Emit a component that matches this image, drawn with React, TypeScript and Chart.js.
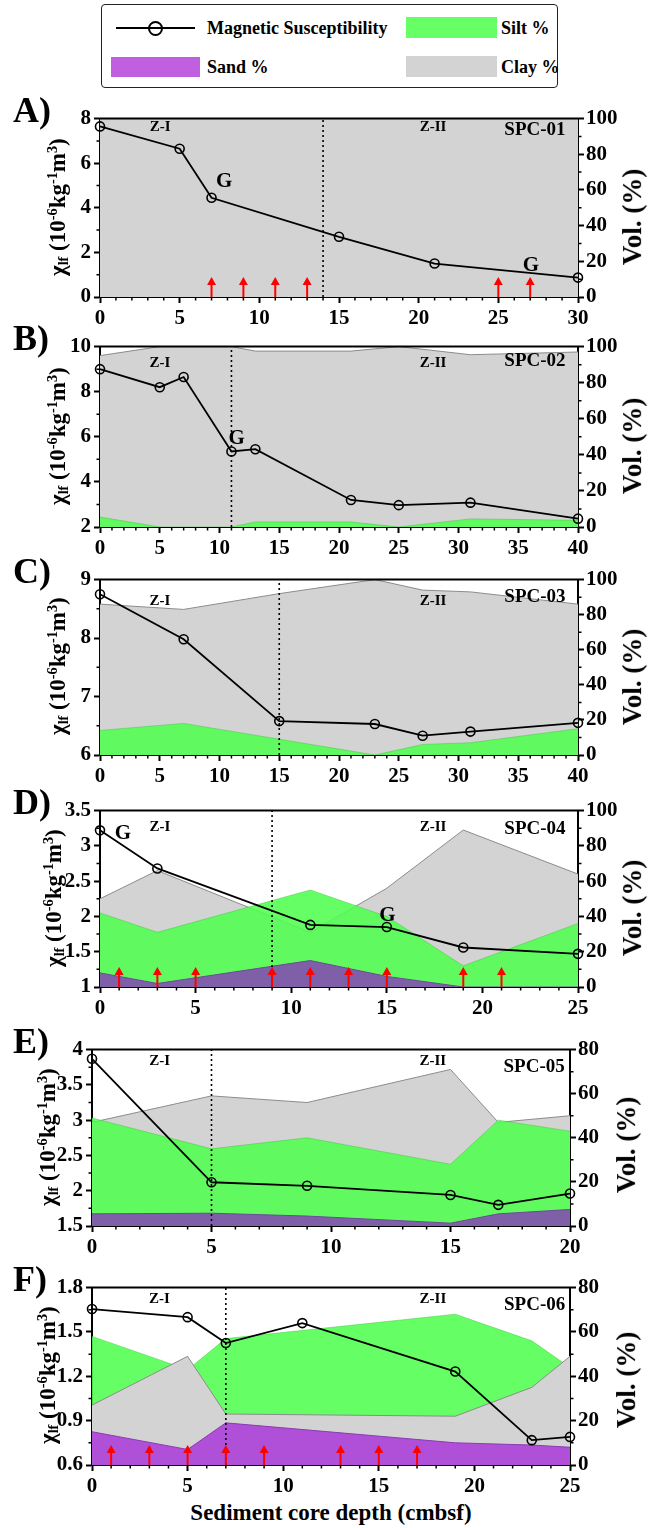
import React, { useEffect, useRef } from "react";
import { Chart, registerables } from "chart.js";
Chart.register(...registerables);

const FONT = "'Liberation Serif', 'Times New Roman', serif";
const MS_LABEL = "Magnetic Susceptibility";
const GRAY = "#d3d3d3";
const GREEN = "rgba(80,255,80,0.88)";
const PURPLE_LEGEND = "#c060e0";

// ---------- Panel A : SPC-01 ----------
const depthA = [0, 5, 7, 15, 21, 30];
const msA = [7.65, 6.65, 4.45, 2.7, 1.5, 0.87];
const grainDepthA = [0, 5, 7, 15, 21, 30];
const clayA = [100, 100, 100, 100, 100, 100];
const arrowsA = [7, 9, 11, 13, 25, 27];
const gLabelsA: [number, number][] = [[7.8, 5.17], [27.05, 1.42]];

// ---------- Panel B : SPC-02 ----------
const depthB = [0, 5, 7, 11, 13, 21, 25, 31, 40];
const msB = [9.0, 8.2, 8.65, 5.35, 5.45, 3.2, 2.97, 3.08, 2.37];
const grainDepthB = [0, 5, 7, 11, 13, 21, 25, 31, 40];
const clayB = [95, 100, 100, 100, 97.5, 97.5, 100, 95.5, 97];
const siltB = [5.5, 0, 0, 0, 2.8, 2.8, 0, 4.5, 3.7];
const gLabelsB: [number, number][] = [[11.43, 5.94]];

// ---------- Panel C : SPC-03 ----------
const depthC = [0, 7, 15, 23, 27, 31, 40];
const msC = [8.75, 7.98, 6.58, 6.53, 6.33, 6.4, 6.55];
const grainDepthC = [0, 7, 15, 23, 27, 31, 40];
const clayC = [86, 83, 92, 100, 94, 93, 86];
const siltC = [14, 18, 9, 0, 6, 7, 15];

// ---------- Panel D : SPC-04 ----------
const depthD = [0, 3, 11, 15, 19, 25];
const msD = [3.22, 2.68, 1.88, 1.85, 1.56, 1.47];
const grainDepthD = [0, 3, 11, 15, 19, 25];
const clayD = [50, 66, 31, 56, 89, 64];
const siltD = [42, 31, 55, 40, 12, 36];
const sandD = [8, 2, 15, 6, 0, 0];
const arrowsD = [1, 3, 5, 9, 11, 13, 15, 19, 21];
const gLabelsD: [number, number][] = [[1.2, 3.18], [15.03, 2.01]];

// ---------- Panel E : SPC-05 ----------
const depthE = [0, 5, 9, 15, 17, 20];
const msE = [3.87, 2.12, 2.07, 1.94, 1.8, 1.96];
const grainDepthE = [0, 5, 9, 15, 17, 20];
const clayE = [47, 59, 56, 71, 47, 50];
const siltE = [49, 35, 40, 28, 48, 43];
const sandE = [5.5, 5.8, 4.5, 1.3, 5.5, 7.5];

// ---------- Panel F : SPC-06 ----------
const depthF = [0, 5, 7, 11, 19, 23, 25];
const msF = [1.655, 1.6, 1.425, 1.56, 1.232, 0.768, 0.79];
const grainDepthF = [0, 5, 7, 19, 23, 25];
const clayF = [27, 49, 23, 22, 35, 49];
const siltF = [58, 43, 57, 68, 56, 44];
const sandF = [15, 7, 19, 10, 9, 8];
const arrowsF = [1, 3, 5, 7, 9, 13, 15, 17];

interface PanelDef {
  letter: string;
  spc: string;
  l: number; r: number; t: number; b: number;
  xMax: number;
  yMin: number; yMax: number; yStep: number; yMinor: number;
  y2Max: number;
  depth: number[]; ms: number[];
  grainDepth: number[]; clay: number[]; silt?: number[]; sand?: number[];
  sandColor?: string; sandBorder?: string;
  clayOnTop?: boolean;
  zone: number;
  arrows: number[];
  gLabels: [number, number][];
  zIx: number; zIIx: number; spcX: number; zY: number; spcY: number;
  titleX: number; titleDy: number;
}

const panels: PanelDef[] = [
  {
    letter: "A)", spc: "SPC-01", l: 100, r: 578, t: 117, b: 297,
    xMax: 30, yMin: 0, yMax: 8, yStep: 2, yMinor: 1, y2Max: 100,
    depth: depthA, ms: msA, grainDepth: grainDepthA, clay: clayA,
    zone: 14, arrows: arrowsA, gLabels: gLabelsA,
    zIx: 3.77, zIIx: 20.9, spcX: 27.3, zY: 9, spcY: 11, titleX: 52, titleDy: 10,
  },
  {
    letter: "B)", spc: "SPC-02", l: 100, r: 578, t: 345, b: 527,
    xMax: 40, yMin: 2, yMax: 10, yStep: 2, yMinor: 1, y2Max: 100,
    depth: depthB, ms: msB, grainDepth: grainDepthB, clay: clayB, silt: siltB,
    zone: 11, arrows: [], gLabels: gLabelsB,
    zIx: 5.02, zIIx: 27.87, spcX: 36.4, zY: 17, spcY: 14, titleX: 52, titleDy: 10,
  },
  {
    letter: "C)", spc: "SPC-03", l: 100, r: 578, t: 578, b: 755,
    xMax: 40, yMin: 6, yMax: 9, yStep: 1, yMinor: 0.5, y2Max: 100,
    depth: depthC, ms: msC, grainDepth: grainDepthC, clay: clayC, silt: siltC,
    zone: 15, arrows: [], gLabels: [],
    zIx: 5.02, zIIx: 27.87, spcX: 36.4, zY: 22, spcY: 17, titleX: 52, titleDy: 10,
  },
  {
    letter: "D)", spc: "SPC-04", l: 100, r: 578, t: 809, b: 987,
    xMax: 25, yMin: 1, yMax: 3.5, yStep: 0.5, yMinor: 0.25, y2Max: 100,
    depth: depthD, ms: msD, grainDepth: grainDepthD, clay: clayD, silt: siltD, sand: sandD,
    sandColor: "#7f5fa8", sandBorder: "#6a4c94",
    zone: 9, arrows: arrowsD, gLabels: gLabelsD,
    zIx: 3.14, zIIx: 17.42, spcX: 22.75, zY: 17, spcY: 18, titleX: 48, titleDy: 10,
  },
  {
    letter: "E)", spc: "SPC-05", l: 92, r: 570, t: 1048, b: 1226,
    xMax: 20, yMin: 1.5, yMax: 4, yStep: 0.5, yMinor: 0.25, y2Max: 80,
    depth: depthE, ms: msE, grainDepth: grainDepthE, clay: clayE, silt: siltE, sand: sandE,
    sandColor: "#7f5fa8", sandBorder: "#6a4c94",
    zone: 5, arrows: [], gLabels: [],
    zIx: 2.83, zIIx: 14.26, spcX: 18.5, zY: 12, spcY: 17, titleX: 42, titleDy: 8,
  },
  {
    letter: "F)", spc: "SPC-06", l: 92, r: 570, t: 1286, b: 1465,
    xMax: 25, yMin: 0.6, yMax: 1.8, yStep: 0.3, yMinor: 0.15, y2Max: 80,
    depth: depthF, ms: msF, grainDepth: grainDepthF, clay: clayF, silt: siltF, sand: sandF,
    sandColor: "#b050d8", sandBorder: "#8a3cb0", clayOnTop: true,
    zone: 7, arrows: arrowsF, gLabels: [],
    zIx: 3.53, zIIx: 17.83, spcX: 23.15, zY: 12, spcY: 17, titleX: 42, titleDy: 4,
  },
];

const LW = 70;
const RW = 60;
const TP = 14;
const XH = 34;

function zip(xs: number[], ys: number[]) {
  return xs.map((x, i) => ({ x, y: ys[i] }));
}

const fmt = (v: any) => String(Math.round(Number(v) * 100) / 100);

function makeDecor(p: PanelDef) {
  return {
    id: "decor" + p.letter,
    beforeDatasetDraw(chart: any, args: any) {
      const ds = chart.data.datasets[args.index];
      if (ds.label !== MS_LABEL) return;
      const { ctx, chartArea: ca, scales } = chart;
      const xs = scales.x;
      ctx.save();
      // zone boundary
      ctx.strokeStyle = "#000";
      ctx.lineWidth = 1.6;
      ctx.setLineDash([2, 3]);
      const zx = xs.getPixelForValue(p.zone);
      ctx.beginPath();
      ctx.moveTo(zx, ca.bottom);
      ctx.lineTo(zx, ca.top);
      ctx.stroke();
      ctx.setLineDash([]);
      // arrows
      ctx.strokeStyle = "#ff0000";
      ctx.fillStyle = "#ff0000";
      ctx.lineWidth = 2;
      for (const a of p.arrows) {
        const ax = xs.getPixelForValue(a);
        const y0 = ca.bottom;
        const y1 = ca.bottom - 20;
        ctx.beginPath();
        ctx.moveTo(ax, y0);
        ctx.lineTo(ax, y1 + 5);
        ctx.stroke();
        ctx.beginPath();
        ctx.moveTo(ax, y1);
        ctx.lineTo(ax - 4.5, y1 + 8);
        ctx.lineTo(ax + 4.5, y1 + 8);
        ctx.closePath();
        ctx.fill();
      }
      ctx.restore();
    },
    afterDraw(chart: any) {
      const { ctx, chartArea: ca, scales } = chart;
      const xs = scales.x, ys = scales.y, y2 = scales.y2;
      ctx.save();
      ctx.strokeStyle = "#000";
      // top frame
      ctx.lineWidth = 2;
      ctx.beginPath();
      ctx.moveTo(ca.left - 1, ca.top);
      ctx.lineTo(ca.right + 1, ca.top);
      ctx.stroke();
      // minor ticks
      ctx.lineWidth = 1.5;
      ctx.beginPath();
      for (let v = 1; v < p.xMax; v++) {
        if (v % 5 === 0) continue;
        const px = xs.getPixelForValue(v);
        ctx.moveTo(px, ca.bottom);
        ctx.lineTo(px, ca.bottom + 3.5);
      }
      const n = Math.round((p.yMax - p.yMin) / p.yMinor);
      for (let i = 1; i < n; i += 2) {
        const py = ys.getPixelForValue(p.yMin + i * p.yMinor);
        ctx.moveTo(ca.left, py);
        ctx.lineTo(ca.left - 3.5, py);
      }
      for (let v = 10; v < p.y2Max; v += 20) {
        const py = y2.getPixelForValue(v);
        ctx.moveTo(ca.right, py);
        ctx.lineTo(ca.right + 3.5, py);
      }
      ctx.stroke();
      // zone labels
      ctx.fillStyle = "#000";
      ctx.textAlign = "center";
      ctx.textBaseline = "middle";
      ctx.font = `bold 15px ${FONT}`;
      ctx.fillText("Z-I", xs.getPixelForValue(p.zIx), ca.top + p.zY);
      ctx.fillText("Z-II", xs.getPixelForValue(p.zIIx), ca.top + p.zY);
      ctx.font = `bold 19px ${FONT}`;
      ctx.fillText(p.spc, xs.getPixelForValue(p.spcX), ca.top + p.spcY);
      ctx.font = `bold 21px ${FONT}`;
      for (const [gx, gy] of p.gLabels) {
        ctx.fillText("G", xs.getPixelForValue(gx), ys.getPixelForValue(gy));
      }
      ctx.restore();
    },
  };
}

function PanelChart({ p }: { p: PanelDef }) {
  const ref = useRef<HTMLCanvasElement>(null);
  const W = p.r - p.l + LW + RW;
  const H = p.b - p.t + TP + XH;
  useEffect(() => {
    const canvas = ref.current!;
    const datasets: any[] = [];
    datasets.push({
      label: "Clay %",
      data: zip(p.grainDepth, p.clay),
      yAxisID: "y2",
      fill: "origin",
      backgroundColor: GRAY,
      borderColor: "#8c8c8c",
      borderWidth: 1,
      pointRadius: 0,
      order: p.clayOnTop ? 3 : 4,
    });
    if (p.silt) {
      datasets.push({
        label: "Silt %",
        data: zip(p.grainDepth, p.silt),
        yAxisID: "y2",
        fill: "origin",
        backgroundColor: GREEN,
        borderColor: "rgba(60,200,60,0.6)",
        borderWidth: 0.8,
        pointRadius: 0,
        order: p.clayOnTop ? 4 : 3,
      });
    }
    if (p.sand) {
      datasets.push({
        label: "Sand %",
        data: zip(p.grainDepth, p.sand),
        yAxisID: "y2",
        fill: "origin",
        backgroundColor: p.sandColor,
        borderColor: p.sandBorder,
        borderWidth: 1,
        pointRadius: 0,
        order: 2,
      });
    }
    datasets.push({
      label: MS_LABEL,
      data: zip(p.depth, p.ms),
      yAxisID: "y",
      borderColor: "#000",
      borderWidth: 1.8,
      pointRadius: 4.5,
      pointBorderWidth: 1.6,
      pointBackgroundColor: "rgba(0,0,0,0)",
      pointBorderColor: "#000",
      fill: false,
      order: 0,
      clip: false,
    });
    const tickFont = { family: FONT, size: 21, weight: "bold" as const };
    const grid = {
      drawOnChartArea: false,
      drawTicks: true,
      tickLength: 6,
      tickWidth: 2,
      tickColor: "#000",
    };
    const border = { color: "#000", width: 2 };
    const chart = new Chart(canvas, {
      type: "line",
      data: { datasets },
      plugins: [makeDecor(p)],
      options: {
        responsive: false,
        animation: false,
        events: [],
        layout: { padding: { top: TP, left: 0, right: 0, bottom: 0 } },
        plugins: { legend: { display: false }, tooltip: { enabled: false } },
        elements: { line: { tension: 0 } },
        scales: {
          x: {
            type: "linear",
            min: 0,
            max: p.xMax,
            ticks: { stepSize: 5, font: tickFont, color: "#000", padding: 3, autoSkip: false, maxRotation: 0, callback: fmt },
            grid,
            border,
            afterFit: (s: any) => { s.height = XH; },
          },
          y: {
            type: "linear",
            position: "left",
            min: p.yMin,
            max: p.yMax,
            ticks: { stepSize: p.yStep, font: tickFont, color: "#000", padding: 3, callback: fmt },
            grid,
            border,
            afterFit: (s: any) => { s.width = LW; },
          },
          y2: {
            type: "linear",
            position: "right",
            min: 0,
            max: p.y2Max,
            ticks: { stepSize: 20, font: tickFont, color: "#000", padding: 2, callback: fmt },
            grid,
            border,
            afterFit: (s: any) => { s.width = RW; },
          },
        } as any,
      },
    } as any);
    return () => chart.destroy();
  }, [p]);
  return (
    <canvas
      ref={ref}
      width={W}
      height={H}
      style={{ position: "absolute", left: p.l - LW, top: p.t - TP, width: W, height: H }}
    />
  );
}

const txt = (extra: React.CSSProperties): React.CSSProperties => ({
  position: "absolute",
  fontFamily: FONT,
  fontWeight: "bold",
  color: "#000",
  whiteSpace: "nowrap",
  ...extra,
});

function RotText({ cx, cy, size, children }: { cx: number; cy: number; size: number; children: React.ReactNode }) {
  const w = 240, h = size * 1.4;
  return (
    <div
      style={txt({
        left: cx - w / 2,
        top: cy - h / 2,
        width: w,
        height: h,
        lineHeight: `${h}px`,
        fontSize: size,
        textAlign: "center",
        transform: "rotate(-90deg)",
      })}
    >
      {children}
    </div>
  );
}

const sub: React.CSSProperties = { fontSize: "0.62em", verticalAlign: "-0.2em" };
const sup: React.CSSProperties = { fontSize: "0.62em", verticalAlign: "0.55em" };

export default function App() {
  return (
    <div style={{ position: "absolute", left: 0, top: 0, width: 652, height: 1528, background: "#fff", overflow: "hidden" }}>
      {/* legend */}
      <div style={{ position: "absolute", left: 101, top: 4, width: 457, height: 84, border: "1.5px solid #222", borderRadius: 4, boxSizing: "border-box" }} />
      <div style={{ position: "absolute", left: 116, top: 27, width: 79, height: 2, background: "#000" }} />
      <div style={{ position: "absolute", left: 148, top: 21, width: 15, height: 15, border: "2px solid #000", borderRadius: "50%", boxSizing: "border-box" }} />
      <div style={txt({ left: 207, top: 17, fontSize: 18, lineHeight: "22px" })}>{MS_LABEL}</div>
      <div style={{ position: "absolute", left: 406, top: 17, width: 91, height: 21, background: "#66ff66" }} />
      <div style={txt({ left: 501, top: 17, fontSize: 18, lineHeight: "22px" })}>Silt %</div>
      <div style={{ position: "absolute", left: 111, top: 57, width: 89, height: 20, background: PURPLE_LEGEND }} />
      <div style={txt({ left: 207, top: 56, fontSize: 18, lineHeight: "22px" })}>Sand %</div>
      <div style={{ position: "absolute", left: 406, top: 56, width: 91, height: 21, background: GRAY }} />
      <div style={txt({ left: 501, top: 56, fontSize: 18, lineHeight: "22px" })}>Clay %</div>

      {panels.map((p) => (
        <React.Fragment key={p.letter}>
          <PanelChart p={p} />
          <div style={txt({ left: 13, top: p.t - 25, fontSize: 36, lineHeight: "36px" })}>{p.letter}</div>
          <RotText cx={p.titleX} cy={(p.t + p.b) / 2} size={23}>
            χ<span style={sub}>lf</span> (10<span style={sup}>-6</span>kg<span style={sup}>-1</span>m<span style={sup}>3</span>)
          </RotText>
          <RotText cx={p.l < 96 ? 627 : 633} cy={(p.t + p.b) / 2 + p.titleDy} size={27}>
            Vol. (%)
          </RotText>
        </React.Fragment>
      ))}
      <div style={txt({ left: 92, width: 478, top: 1499, fontSize: 23, lineHeight: "28px", textAlign: "center" })}>
        Sediment core depth (cmbsf)
      </div>
    </div>
  );
}
